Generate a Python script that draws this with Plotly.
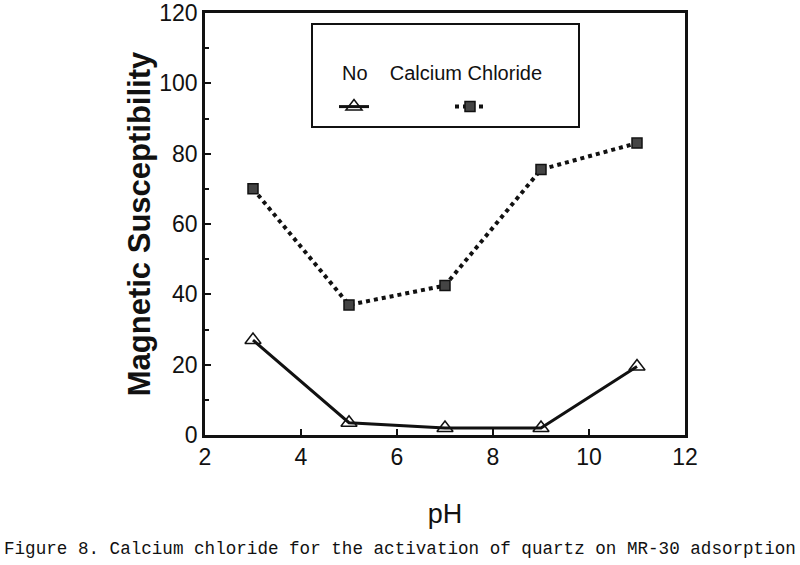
import plotly.graph_objects as go

ph = [3, 5, 7, 9, 11]
no_cacl2 = [27, 3.5, 2, 2, 19.5]
cacl2 = [70, 37, 42.5, 75.5, 83]
x_ticks = [2, 4, 6, 8, 10, 12]
y_ticks = [0, 20, 40, 60, 80, 100, 120]

SANS = "Liberation Sans, Arial, sans-serif"

fig = go.Figure()
fig.add_trace(go.Scatter(
    x=ph, y=no_cacl2, name="", mode="lines+markers",
    line=dict(color="#111", width=3),
    marker=dict(symbol="triangle-up-open", size=14, color="#111", line=dict(width=1.5)),
    showlegend=True,
))
fig.add_trace(go.Scatter(
    x=ph, y=cacl2, name="", mode="lines+markers",
    line=dict(color="#111", width=4, dash="dot"),
    marker=dict(symbol="square", size=10, color="#444", line=dict(color="#111", width=1.5)),
    showlegend=True,
))

fig.update_layout(
    width=800, height=565,
    margin=dict(l=205, r=115, t=13, b=130, autoexpand=False),
    paper_bgcolor="white", plot_bgcolor="white",
    font=dict(family=SANS, color="#111"),
    showlegend=True,
    legend=dict(
        orientation="h", x=(334 - 205) / 480, y=(435 - 107) / 422, xanchor="left", yanchor="middle",
        bgcolor="rgba(0,0,0,0)", borderwidth=0,
        entrywidth=71, entrywidthmode="pixels", itemwidth=30,
        font=dict(size=14),
    ),
    xaxis=dict(
        range=[2, 12], tickvals=x_ticks, ticks="inside", ticklen=6, tickwidth=1.5,
        tickcolor="#111", showline=True, linecolor="#111", linewidth=2.5, mirror=True,
        showgrid=False, zeroline=False, tickfont=dict(size=23, family=SANS),
        automargin=False,
        title=dict(text="pH", font=dict(size=27, family=SANS), standoff=35),
    ),
    yaxis=dict(
        range=[0, 120], tickvals=y_ticks, ticks="inside", ticklen=6, tickwidth=1.5,
        tickcolor="#111", showline=True, linecolor="#111", linewidth=2.5, mirror=True,
        showgrid=False, zeroline=False, tickfont=dict(size=23, family=SANS),
        automargin=False,
        minor=dict(dtick=10, ticks="inside", ticklen=4, tickcolor="#111"),
        title=dict(text="<b>Magnetic Susceptibility</b>",
                   font=dict(size=31, family=SANS), standoff=0),
    ),
)

# legend frame and heading
fig.add_shape(type="rect", xref="paper", yref="paper",
              x0=(312 - 205) / 480, x1=(579 - 205) / 480,
              y0=(435 - 127) / 422, y1=(435 - 24) / 422,
              line=dict(color="#111", width=2))
fig.add_annotation(xref="paper", yref="paper", x=(340 - 205) / 480, y=(435 - 73) / 422,
                   xanchor="left", yanchor="middle", showarrow=False,
                   text="No&nbsp;&nbsp;&nbsp;&nbsp;Calcium Chloride",
                   font=dict(size=20, family=SANS, color="#111"))
fig.add_annotation(xref="paper", yref="paper", x=(400 - 205) / 480, y=(435 - 549) / 422,
                   xanchor="center", yanchor="middle", showarrow=False,
                   text="Figure 8. Calcium chloride for the activation of quartz on MR-30 adsorption",
                   font=dict(size=17.6, family="Liberation Mono, Courier New, monospace", color="#111"))

fig.write_html("out.html", config={"displayModeBar": False},
               post_script="document.body.style.margin='0px';")
